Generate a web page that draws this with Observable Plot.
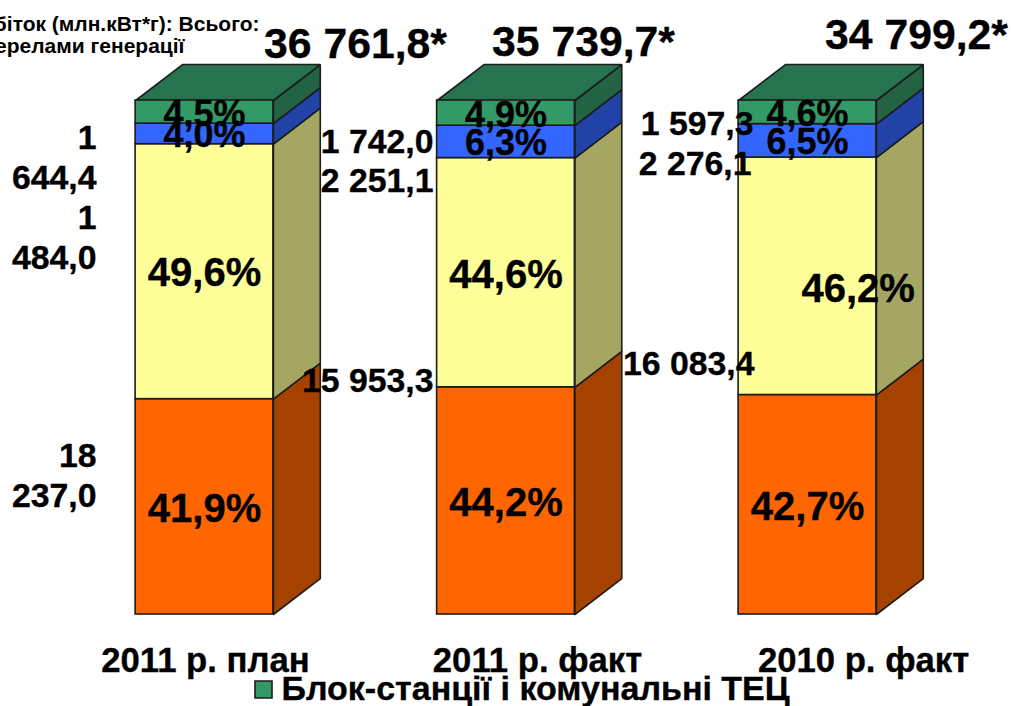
<!DOCTYPE html>
<html><head><meta charset="utf-8">
<script src="https://cdn.jsdelivr.net/npm/d3@7"></script>
<script src="https://cdn.jsdelivr.net/npm/@observablehq/plot@0.6"></script>
<style>html,body{margin:0;padding:0;background:#fff;overflow:hidden}svg{display:block}</style>
</head><body><div id="c"></div>
<script>
const categories = ["2011 р. план", "2011 р. факт", "2010 р. факт"];
const totals = ["36 761,8*", "35 739,7*", "34 799,2*"];
const shareTPP = [41.9, 44.2, 42.7];
const shareNPP = [49.6, 44.6, 46.2];
const shareHPP = [4.0, 6.3, 6.5];
const shareCHP = [4.5, 4.9, 4.6];
const valueLabels = ["18\n237,0", "1\n484,0", "1\n644,4", "15 953,3", "2 251,1", "1 742,0", "16 083,4", "2 276,1", "1 597,3"];
const legendLabel = "Блок-станції і комунальні ТЕЦ";
const titleLines = ["Виробіток (млн.кВт*г): Всього:", "за джерелами генерації"];

const FONT = "Liberation Sans, Arial, sans-serif";
const series = [
  {values: shareTPP, front: "#FF6600", side: "#A64200"},
  {values: shareNPP, front: "#FFFF99", side: "#A6A663"},
  {values: shareHPP, front: "#3366FF", side: "#2142A6"},
  {values: shareCHP, front: "#339966", side: "#216342"}
];
const topColor = "#267350";
const halfW = 0.2285, depthX = 0.1555, depthY = 7.0;

const fronts = [], faces = [], pct = [];
categories.forEach((cat, i) => {
  let base = 0;
  const l = i - halfW, r = i + halfW;
  series.forEach((s, k) => {
    const v = s.values[i], t = base + v;
    fronts.push({x1: l, x2: r, y1: base, y2: t, fill: s.front});
    const id = `s${i}-${k}`;
    [[r, base], [r + depthX, base + depthY], [r + depthX, t + depthY], [r, t], [r, base]]
      .forEach(([x, y]) => faces.push({id, x, y, fill: s.side}));
    pct.push({x: i, y: base + v / 2, text: v.toFixed(1).replace(".", ",") + "%", i, k, big: v > 20});
    base = t;
  });
  [[l, base], [l + depthX, base + depthY], [r + depthX, base + depthY], [r, base], [l, base]]
    .forEach(([x, y]) => faces.push({id: `t${i}`, x, y, fill: topColor}));
});
const pctShift = d => (d.i === 2 && d.k === 1) ? {x: d.x + 0.168, y: d.y - 2.1} : d;

const heavy = {stroke: "#000", strokeWidth: 0.35};
const at = (text, px, py, size, anchor = "start", extra = {}) =>
  Plot.text([text], {text: d => d, frameAnchor: "top-left", dx: px, dy: py, fontSize: size,
    fontWeight: "bold", fontFamily: FONT, textAnchor: anchor, lineAnchor: "middle", fill: "#000", ...heavy, ...extra});

const valuePos = [[96,474],[96,236],[96,156],[433,379],[433,179],[433,140],[754,362],[751,162],[753,122]];
const totalPos = [[355,44],[583,42],[916,35]];
const catPos = [205, 537, 863];

const pctMark = (rows, size) => Plot.text(rows, {x: d => pctShift(d).x, y: d => pctShift(d).y, text: "text", dy: 2,
  fontSize: size, fontWeight: "bold", fontFamily: FONT, fill: "#000", ...heavy});

const chart = Plot.plot({
  width: 1011, height: 706, margin: 0,
  x: {domain: [0, 2], range: [204, 807], axis: null},
  y: {domain: [0, 100], range: [614, 100], axis: null},
  color: {type: "identity"},
  style: {background: "#fff", fontFamily: FONT},
  marks: [
    Plot.line(faces, {x: "x", y: "y", z: "id", fill: "fill", stroke: "#1c1c1c", strokeWidth: 1.6, strokeLinejoin: "miter"}),
    Plot.rect(fronts, {x1: "x1", x2: "x2", y1: "y1", y2: "y2", fill: "fill", stroke: "#1c1c1c", strokeWidth: 1.6}),
    pctMark(pct.filter(d => d.big), 40),
    pctMark(pct.filter(d => !d.big), 36),
    ...valueLabels.map((t, i) => at(t, valuePos[i][0], valuePos[i][1], 33.8, "end", {lineHeight: 1.18})),
    ...totals.map((t, i) => at(t, totalPos[i][0], totalPos[i][1], 42.7, "middle")),
    ...categories.map((t, i) => at(t, catPos[i], 660, 34.7, "middle")),
    at(titleLines[0], 259, 24, 21, "end", {stroke: "none"}),
    at(titleLines[1], 184, 46, 21, "end", {stroke: "none"}),
    Plot.dot([0], {frameAnchor: "top-left", dx: 263, dy: 689, symbol: "square", r: 9.6, fill: "#339966", stroke: "#1c1c1c", strokeWidth: 1.6}),
    at(legendLabel, 281, 689, 34, "start")
  ]
});
document.getElementById("c").append(chart);
</script></body></html>
